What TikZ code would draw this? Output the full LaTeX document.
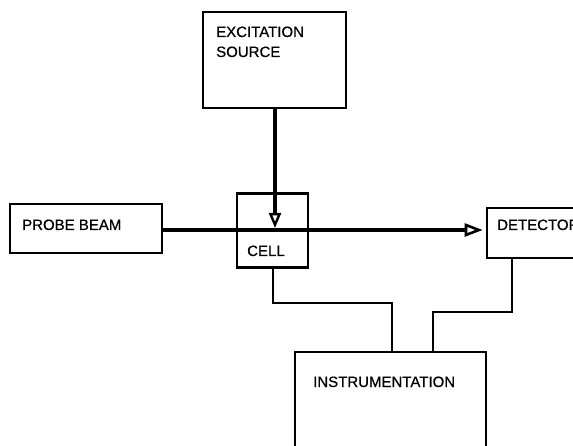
\documentclass[tikz,border=0pt]{standalone}
\usepackage{fontspec}
\setmainfont{Liberation Sans}
\newfontfamily\heavyfont{Liberation Sans}[FakeBold=0.6]
\usetikzlibrary{arrows.meta}
\begin{document}
\begin{tikzpicture}[x=1pt,y=-1pt,
  box/.style={draw, line width=2.6pt, rectangle, inner sep=0pt},
  txt/.style={anchor=base west, inner sep=0pt, font=\heavyfont\fontsize{15}{17}\selectfont},
  wire/.style={line width=2pt},
  beam/.style={line width=4.5pt, -{Triangle[open, length=18pt, width=13pt, line width=2.6pt]}},
  exc/.style={line width=3.5pt, -{Triangle[open, length=15pt, width=12pt, line width=2.4pt]}}]
\useasboundingbox (0,0) rectangle (573,446);
\clip (0,0) rectangle (573,446);
% boxes
\node[box, minimum width=143pt, minimum height=96pt] (src) at (274.5,60) {};
\node[box, minimum width=152pt, minimum height=49pt] (probe) at (86,228.5) {};
\node[box, minimum width=71pt, minimum height=74pt] (cell) at (272.5,230.5) {};
\node[box, minimum width=110pt, minimum height=50pt] (det) at (542,233) {};
\node[box, minimum width=191pt, minimum height=130pt] (inst) at (390.5,417) {};
% texts
\node[txt] (srct1) at (216,37) {EXCITATION};
\node[txt] (srct2) at (216,57) {SOURCE};
\node[txt] (probet) at (22,230) {PROBE BEAM};
\node[txt] (cellt) at (247,256) {CELL};
\node[txt] (dett) at (497,230) {DETECTOR};
\node[txt] (instt) at (313,387) {INSTRUMENTATION};
% coordinates
\coordinate (srcout) at (275,108);
\coordinate (beamhit) at (275,228);
\coordinate (cellout) at (273,267.5);
\coordinate (c1) at (273,303);
\coordinate (c2) at (392,303);
\coordinate (detout) at (512,258);
\coordinate (d1) at (512,312);
\coordinate (d2) at (433,312);
% connectors
\draw[beam, shorten >=3pt] (probe.east |- 0,230) -- (det.west |- 0,230);
\draw[exc] (srcout) -- (beamhit);
\draw[wire] (cellout) -- (c1) -- (c2) -- (c2 |- inst.north);
\draw[wire] (detout) -- (d1) -- (d2) -- (d2 |- inst.north);
\end{tikzpicture}
\end{document}
